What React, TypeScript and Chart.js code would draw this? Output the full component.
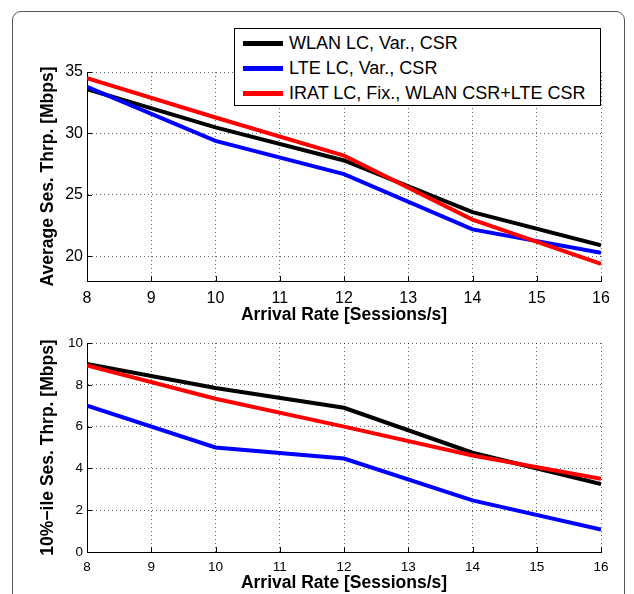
import React, { useEffect, useRef } from "react";
import { Chart, registerables } from "chart.js";

Chart.register(...registerables);

const FONT = "'Liberation Sans', Arial, Helvetica, sans-serif";

const arrivalRates = [8, 10, 12, 14, 16];
const seriesNames = ["WLAN LC, Var., CSR", "LTE LC, Var., CSR", "IRAT LC, Fix., WLAN CSR+LTE CSR"];
const seriesColors = ["#000000", "#0000ff", "#ff0000"];

const avgWlan = [33.6, 30.5, 27.8, 23.6, 20.9];
const avgLte = [33.8, 29.4, 26.7, 22.2, 20.3];
const avgIrat = [34.5, 31.3, 28.2, 23.0, 19.4];

const p10Wlan = [9.0, 7.85, 6.9, 4.75, 3.25];
const p10Lte = [7.0, 5.0, 4.47, 2.47, 1.07];
const p10Irat = [8.93, 7.33, 6.0, 4.62, 3.5];

const xTicks = [8, 9, 10, 11, 12, 13, 14, 15, 16];
const avgYTicks = [20, 25, 30, 35];
const p10YTicks = [0, 2, 4, 6, 8, 10];

const xTitle = "Arrival Rate [Sessions/s]";
const avgYTitle = "Average Ses. Thrp. [Mbps]";
const p10YTitle = "10%−ile Ses. Thrp. [Mbps]";

const inwardTicks = {
  id: "inwardTicks",
  afterDraw(chart: any) {
    const { ctx, chartArea } = chart;
    const xs = chart.scales.x;
    const ys = chart.scales.y;
    ctx.save();
    ctx.strokeStyle = "#000";
    ctx.lineWidth = 1;
    ctx.beginPath();
    xs.ticks.forEach((t: any) => {
      const px = Math.round(xs.getPixelForValue(t.value)) + 0.5;
      ctx.moveTo(px, chartArea.bottom);
      ctx.lineTo(px, chartArea.bottom - 5);
    });
    ys.ticks.forEach((t: any) => {
      const py = Math.round(ys.getPixelForValue(t.value)) + 0.5;
      ctx.moveTo(chartArea.left, py);
      ctx.lineTo(chartArea.left + 5, py);
    });
    ctx.stroke();
    ctx.restore();
  },
};

type Cfg = {
  series: number[][];
  yMin: number;
  yMax: number;
  yTicks: number[];
  yTitle: string;
  tickSize: number;
  padTop: number;
  xHeight: number;
  xTickPad: number;
  xTitlePad: number;
};

function makeConfig(c: Cfg): any {
  const grid = { color: "rgba(0,0,0,0.6)", lineWidth: 1, drawTicks: false };
  const border = { display: true, color: "#000", width: 1, dash: [1, 3] };
  const titleFont = { family: FONT, size: 17.5, weight: "bold" as const, lineHeight: 1.2 };
  const order = [2, 1, 0];
  return {
    type: "line",
    data: {
      datasets: c.series.map((s, i) => ({
        label: seriesNames[i],
        data: s.map((v, j) => ({ x: arrivalRates[j], y: v })),
        borderColor: seriesColors[i],
        backgroundColor: seriesColors[i],
        borderWidth: 4,
        pointRadius: 0,
        tension: 0,
        fill: false,
        order: order[i],
      })),
    },
    options: {
      responsive: false,
      animation: false,
      devicePixelRatio: 1,
      layout: { padding: { left: 0, top: c.padTop, right: 33, bottom: 0 } },
      plugins: { legend: { display: false }, tooltip: { enabled: false } },
      scales: {
        x: {
          type: "linear",
          min: 8,
          max: 16,
          afterBuildTicks: (scale: any) => {
            scale.ticks = xTicks.map((v) => ({ value: v }));
          },
          afterFit: (scale: any) => {
            scale.height = c.xHeight;
          },
          grid,
          border,
          ticks: {
            color: "#000",
            font: { family: FONT, size: c.tickSize },
            padding: c.xTickPad,
            maxRotation: 0,
            autoSkip: false,
            callback: (v: any) => String(v),
          },
          title: {
            display: true,
            text: xTitle,
            color: "#000",
            font: titleFont,
            padding: { top: 0, bottom: c.xTitlePad },
          },
        },
        y: {
          type: "linear",
          min: c.yMin,
          max: c.yMax,
          afterBuildTicks: (scale: any) => {
            scale.ticks = c.yTicks.map((v) => ({ value: v }));
          },
          afterFit: (scale: any) => {
            scale.width = 87;
          },
          grid,
          border,
          ticks: {
            color: "#000",
            font: { family: FONT, size: c.tickSize },
            padding: 4,
            autoSkip: false,
            callback: (v: any) => String(v),
          },
          title: {
            display: true,
            text: c.yTitle,
            color: "#000",
            font: titleFont,
            padding: { top: 38, bottom: 0 },
          },
        },
      },
    },
    plugins: [inwardTicks],
  };
}

function ChartCanvas({ cfg, top, height }: { cfg: Cfg; top: number; height: number }) {
  const ref = useRef<HTMLCanvasElement | null>(null);
  useEffect(() => {
    if (!ref.current) return;
    const chart = new Chart(ref.current, makeConfig(cfg));
    return () => chart.destroy();
  }, []);
  return (
    <canvas
      ref={ref}
      width={634}
      height={height}
      style={{ position: "absolute", left: 0, top, width: 634, height, display: "block" }}
    />
  );
}

export default function App() {
  return (
    <div
      style={{
        position: "fixed",
        left: 0,
        top: 0,
        width: 634,
        height: 594,
        overflow: "hidden",
        background: "#fff",
        fontFamily: FONT,
      }}
    >
      <div
        style={{
          position: "absolute",
          left: 12,
          top: 11,
          width: 611,
          height: 700,
          border: "1px solid #555",
          borderRadius: 9,
        }}
      />
      <ChartCanvas
        top={0}
        height={330}
        cfg={{
          series: [avgWlan, avgLte, avgIrat],
          yMin: 18,
          yMax: 35,
          yTicks: avgYTicks,
          yTitle: avgYTitle,
          tickSize: 16,
          padTop: 72,
          xHeight: 49,
          xTickPad: 8,
          xTitlePad: 4.5,
        }}
      />
      <ChartCanvas
        top={330}
        height={264}
        cfg={{
          series: [p10Wlan, p10Lte, p10Irat],
          yMin: 0,
          yMax: 10,
          yTicks: p10YTicks,
          yTitle: p10YTitle,
          tickSize: 13.5,
          padTop: 13,
          xHeight: 42,
          xTickPad: 7,
          xTitlePad: 0,
        }}
      />
      <div
        style={{
          position: "absolute",
          left: 234,
          top: 28,
          width: 367,
          height: 78,
          border: "1px solid #000",
          background: "#fff",
          boxSizing: "border-box",
          fontSize: 18,
          color: "#000",
        }}
      >
        {seriesNames.map((n, i) => (
          <div
            key={n}
            style={{
              position: "absolute",
              left: 8,
              top: 3 + i * 25,
              height: 22,
              display: "flex",
              alignItems: "center",
              whiteSpace: "nowrap",
            }}
          >
            <span
              style={{
                display: "inline-block",
                width: 40,
                height: 5,
                background: seriesColors[i],
                marginRight: 6,
              }}
            />
            <span>{n}</span>
          </div>
        ))}
      </div>
    </div>
  );
}
